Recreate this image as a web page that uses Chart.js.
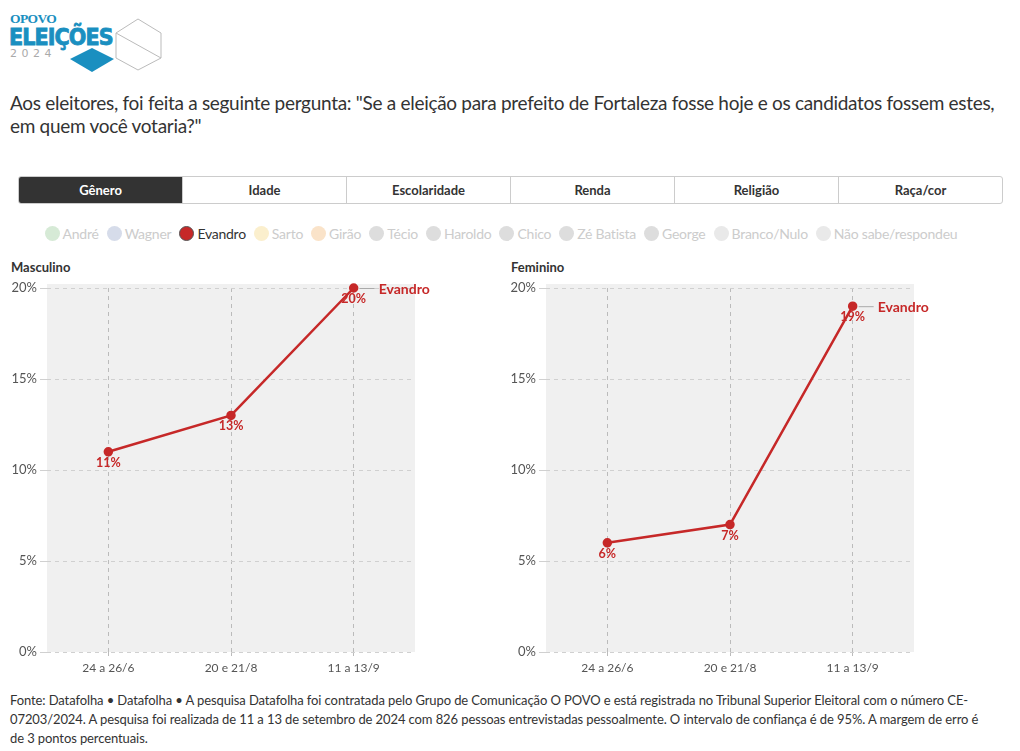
<!DOCTYPE html>
<html>
<head>
<meta charset="utf-8">
<script src="https://cdn.jsdelivr.net/npm/chart.js@4.4.1/dist/chart.umd.min.js"></script>
<style>
  html,body{margin:0;padding:0;background:#fff;}
  body{width:1020px;height:751px;position:relative;overflow:hidden;font-family:Lato,"Open Sans",sans-serif;color:#333;}
  #logo{position:absolute;left:8px;top:12px;}
  #title{position:absolute;left:10px;top:91px;width:1005px;font-size:19px;letter-spacing:-0.3px;line-height:23px;color:#333;}
  #tabs{position:absolute;left:18px;top:176px;width:983px;height:26px;border:1px solid #ccc;border-radius:3px;display:flex;overflow:hidden;}
  #tabs div{flex:1;text-align:center;font-size:13px;font-weight:bold;line-height:26px;border-left:1px solid #ccc;color:#333;}
  #tabs div:first-child{border-left:none;background:#333;color:#fff;}
  #legend{position:absolute;left:0;top:225px;width:1002px;display:flex;justify-content:center;font-size:14px;letter-spacing:-0.25px;}
  #legend span.item{display:inline-flex;align-items:center;margin:0 4px;color:#ccc;}
  #legend span.dot{display:inline-block;width:13px;height:13px;border-radius:50%;margin-right:3px;border:1px solid transparent;}
  .ptitle{position:absolute;top:259px;font-size:13px;font-weight:bold;color:#333;}
  #foot{position:absolute;left:10px;top:691px;width:970px;font-size:13px;letter-spacing:-0.1px;line-height:19px;color:#333;}
  canvas{position:absolute;}
</style>
</head>
<body>
<div id="logo">
<svg width="160" height="64" viewBox="0 0 160 64">
  <text x="2" y="11" font-family="'Liberation Serif',serif" font-weight="bold" font-size="13.5" fill="#1a8fc0" letter-spacing="-0.6">OPOVO</text>
  <text x="1" y="33" font-family="'DejaVu Sans Condensed','DejaVu Sans',sans-serif" font-weight="bold" font-size="23" fill="#1a8fc0" stroke="#1a8fc0" stroke-width="0.8" letter-spacing="-0.9">ELEIÇÕES</text>
  <text x="2" y="45" font-family="'DejaVu Sans',sans-serif" font-size="11" fill="#aaa" letter-spacing="4.5">2024</text>
  <polygon points="62,47 84,36 106,47 84,60" fill="#1a8fc0"/>
  <polyline points="108,21 130,7 153,21 153,46 108,21 108,46 130,58 153,46" fill="none" stroke="#bbb" stroke-width="1"/>
</svg>
</div>
<div id="title">Aos eleitores, foi feita a seguinte pergunta: "Se a eleição para prefeito de Fortaleza fosse hoje e os candidatos fossem estes, em quem você votaria?"</div>
<div id="tabs"><div>Gênero</div><div>Idade</div><div>Escolaridade</div><div>Renda</div><div>Religião</div><div>Raça/cor</div></div>
<div id="legend"></div>
<div class="ptitle" style="left:11px">Masculino</div>
<div class="ptitle" style="left:511px">Feminino</div>
<canvas id="c1" width="500" height="420" style="left:0;top:260px;width:500px;height:420px"></canvas>
<canvas id="c2" width="500" height="420" style="left:499px;top:260px;width:500px;height:420px"></canvas>
<div id="foot">Fonte: Datafolha • Datafolha • A pesquisa Datafolha foi contratada pelo Grupo de Comunicação O POVO e está registrada no Tribunal Superior Eleitoral com o número CE-07203/2024. A pesquisa foi realizada de 11 a 13 de setembro de 2024 com 826 pessoas entrevistadas pessoalmente. O intervalo de confiança é de 95%. A margem de erro é de 3 pontos percentuais.</div>
<script>
const surveys = ["24 a 26/6", "20 e 21/8", "11 a 13/9"];
const masculino = [11, 13, 20];
const feminino = [6, 7, 19];
const yTicks = [0, 5, 10, 15, 20];
const candidates = ["André","Wagner","Evandro","Sarto","Girão","Técio","Haroldo","Chico","Zé Batista","George","Branco/Nulo","Não sabe/respondeu"];
const candColors = ["#d6ead6","#d6dcea","#c62828","#fbefcd","#fae3c9","#dddddd","#dddddd","#dddddd","#dddddd","#dddddd","#e9e9e9","#e9e9e9"];
const activeCandidate = "Evandro";
const RED = "#c62828";

// legend
const lg = document.getElementById('legend');
candidates.forEach((n,i)=>{
  const it = document.createElement('span'); it.className='item';
  const d = document.createElement('span'); d.className='dot'; d.style.background=candColors[i];
  if(n===activeCandidate){ d.style.borderColor='#555'; it.style.color='#333'; }
  it.appendChild(d); it.appendChild(document.createTextNode(n)); lg.appendChild(it);
});

const bgPlugin = {
  id:'bg',
  beforeDraw(chart){
    const a = chart.chartArea, ctx = chart.ctx;
    ctx.save(); ctx.fillStyle='#f0f0f0';
    ctx.fillRect(a.left, a.top-4, a.right-a.left, a.bottom-a.top+4);
    ctx.restore();
  }
};
const labelPlugin = {
  id:'lbls',
  afterDatasetsDraw(chart){
    const ctx = chart.ctx;
    const meta = chart.getDatasetMeta(0);
    const data = chart.data.datasets[0].data;
    ctx.save();
    ctx.font = "bold 12.5px Lato, 'Open Sans', sans-serif";
    ctx.fillStyle = RED; ctx.textAlign='center'; ctx.textBaseline='middle';
    meta.data.forEach((p,i)=>{ ctx.fillText(data[i]+'%', p.x, p.y+11); });
    const last = meta.data[meta.data.length-1];
    ctx.strokeStyle='#aaa'; ctx.lineWidth=1;
    ctx.beginPath(); ctx.moveTo(last.x+6, last.y+0.5); ctx.lineTo(last.x+21, last.y+0.5); ctx.stroke();
    ctx.font = "bold 14px Lato, 'Open Sans', sans-serif";
    ctx.textAlign='left';
    ctx.fillText(chart.data.datasets[0].label, last.x+25, last.y+1);
    ctx.restore();
  }
};

function makeChart(id, values){
  return new Chart(document.getElementById(id), {
    type:'line',
    data:{ labels: surveys, datasets:[{ label: activeCandidate, data: values, borderColor: RED, backgroundColor: RED, borderWidth: 2.5, pointRadius: 3.5, pointHoverRadius: 3.5, tension: 0, clip: false }]},
    options:{
      responsive:false, animation:false, devicePixelRatio:1,
      layout:{ padding:{ top:28, right:85, left:0, bottom:0 } },
      plugins:{ legend:{display:false}, tooltip:{enabled:false} },
      scales:{
        x:{
          type:'category', offset:true,
          grid:{ color:'#bbb', tickColor:'#bbb', tickLength:7, offset:false, drawOnChartArea:true, tickBorderDash:[4,4] },
          border:{ display:false, dash:[4,4] },
          ticks:{ color:'#555', font:{ size:12, family:"Lato, 'Open Sans', sans-serif" }, padding:2, maxRotation:0 },
          afterFit(s){ s.height = 28; }
        },
        y:{
          min:0, max:20,
          afterBuildTicks(s){ s.ticks = yTicks.map(v=>({value:v})); },
          grid:{ color:'#d0d0d0', tickColor:'#d0d0d0', tickLength:7 },
          border:{ display:false, dash:[4,4] },
          ticks:{ color:'#555', font:{ size:13, family:"Lato, 'Open Sans', sans-serif" }, padding:3, callback:v=>v+'%' },
          afterFit(s){ s.width = 47; }
        }
      }
    },
    plugins:[bgPlugin, labelPlugin]
  });
}
makeChart('c1', masculino);
makeChart('c2', feminino);
</script>
</body>
</html>
